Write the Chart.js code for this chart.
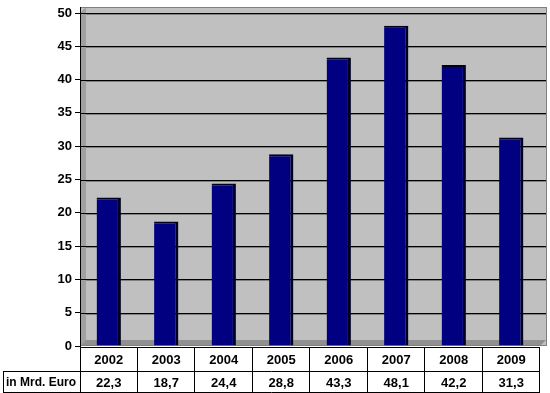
<!DOCTYPE html>
<html>
<head>
<meta charset="utf-8">
<script src="https://cdn.jsdelivr.net/npm/chart.js@4"></script>
<style>
  html, body { margin: 0; padding: 0; background: #fff; }
  #wrap { width: 550px; height: 393px; }
</style>
</head>
<body>
<div id="wrap"><canvas id="c" width="550" height="393"></canvas></div>
<script>
const years = ["2002", "2003", "2004", "2005", "2006", "2007", "2008", "2009"];
const values = [22.3, 18.7, 24.4, 28.8, 43.3, 48.1, 42.2, 31.3];
const valueLabels = ["22,3", "18,7", "24,4", "28,8", "43,3", "48,1", "42,2", "31,3"];
const rowLabel = "in Mrd. Euro";

const FONT = "'Liberation Sans', Arial, sans-serif";

// grey 3D-looking wall and floor behind the bars
const wallPlugin = {
  id: "wall",
  beforeDatasetsDraw(chart) {
    const { ctx, chartArea: a } = chart;
    const d = 6;
    ctx.save();
    ctx.fillStyle = "#c0c0c0";
    ctx.fillRect(a.left, a.top - d, a.right - a.left + d + 1, a.bottom - a.top + d);
    // left side wall
    ctx.fillStyle = "#a0a0a0";
    ctx.beginPath();
    ctx.moveTo(a.left, a.top);
    ctx.lineTo(a.left + d, a.top - d);
    ctx.lineTo(a.left + d, a.bottom - d);
    ctx.lineTo(a.left, a.bottom);
    ctx.closePath();
    ctx.fill();
    // floor
    ctx.fillStyle = "#909090";
    ctx.beginPath();
    ctx.moveTo(a.left, a.bottom);
    ctx.lineTo(a.left + d, a.bottom - d);
    ctx.lineTo(a.right + d, a.bottom - d);
    ctx.lineTo(a.right, a.bottom);
    ctx.closePath();
    ctx.fill();
    // grid lines on the back wall
    const y = chart.scales.y;
    y.ticks.forEach(t => {
      if (t.value === 0) return;
      const py = Math.round(y.getPixelForValue(t.value)) + 0.5;
      ctx.strokeStyle = "#808080";
      ctx.lineWidth = 1;
      ctx.beginPath();
      ctx.moveTo(a.left + d, py + 1);
      ctx.lineTo(a.right + d, py + 1);
      ctx.stroke();
      ctx.strokeStyle = "#000";
      ctx.beginPath();
      ctx.moveTo(a.left, py);
      ctx.lineTo(a.left + d, py);
      ctx.lineTo(a.right + d, py);
      ctx.stroke();
    });
    ctx.strokeStyle = "#808080";
    ctx.strokeRect(a.left + 0.5, a.top - d + 0.5, a.right - a.left + d, a.bottom - a.top + d - 1);
    ctx.restore();
  }
};

// data table under the plot
const tablePlugin = {
  id: "table",
  afterDraw(chart) {
    const { ctx, chartArea: a } = chart;
    const x = chart.scales.x;
    const top = a.bottom + 1;
    const mid = top + 24;
    const bottom = mid + 22;
    const cw = (a.right - a.left) / years.length;
    ctx.save();
    ctx.strokeStyle = "#000";
    ctx.lineWidth = 1;
    ctx.beginPath();
    ctx.moveTo(a.left, top + 0.5); ctx.lineTo(a.right, top + 0.5);
    ctx.moveTo(3, mid + 0.5); ctx.lineTo(a.right, mid + 0.5);
    ctx.moveTo(3, bottom - 0.5); ctx.lineTo(a.right, bottom - 0.5);
    ctx.moveTo(3.5, mid); ctx.lineTo(3.5, bottom);
    ctx.moveTo(a.left + 0.5, a.top - 6); ctx.lineTo(a.left + 0.5, bottom);
    for (let i = 1; i <= years.length; i++) {
      const px = Math.round(a.left + cw * i) - 0.5;
      ctx.moveTo(px, top); ctx.lineTo(px, bottom);
    }
    ctx.stroke();
    ctx.fillStyle = "#000";
    ctx.font = "bold 13px " + FONT;
    ctx.textBaseline = "middle";
    ctx.textAlign = "center";
    years.forEach((yr, i) => {
      const px = x.getPixelForValue(i);
      ctx.fillText(yr, px, (top + mid) / 2 + 1);
      ctx.fillText(valueLabels[i], px, (mid + bottom) / 2 + 1);
    });
    ctx.font = "bold 12px " + FONT;
    ctx.textAlign = "left";
    ctx.fillText(rowLabel, 6, (mid + bottom) / 2 + 1);
    ctx.restore();
  }
};

new Chart(document.getElementById("c"), {
  type: "bar",
  data: {
    labels: years,
    datasets: [{
      data: values,
      backgroundColor: "#000080",
      borderColor: "#000020",
      borderWidth: { top: 2, right: 3, left: 0, bottom: 0 },
      borderSkipped: false,
      barPercentage: 0.9,
      categoryPercentage: 0.47
    }]
  },
  options: {
    responsive: false,
    animation: false,
    layout: { padding: { top: 13, right: 10, bottom: 47, left: 0 } },
    plugins: { legend: { display: false }, tooltip: { enabled: false } },
    scales: {
      x: { display: false },
      y: {
        min: 0, max: 50,
        afterFit: s => { s.width = 80; },
        ticks: { stepSize: 5, color: "#000", font: { family: FONT, size: 13, weight: "bold" }, padding: 3 },
        grid: { drawOnChartArea: false, drawTicks: true, tickLength: 5, color: "#000" },
        border: { display: true, color: "#000" }
      }
    }
  },
  plugins: [wallPlugin, tablePlugin]
});
</script>
</body>
</html>
